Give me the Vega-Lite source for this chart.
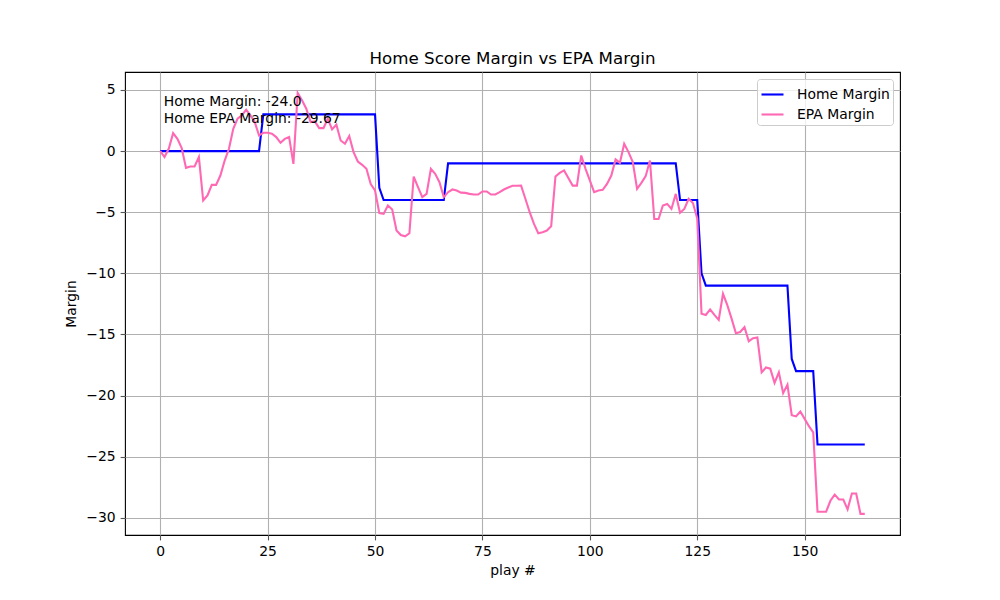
{
  "$schema": "https://vega.github.io/schema/vega-lite/v6.json",
  "autosize": {"type": "none"},
  "width": 775,
  "height": 463,
  "padding": {"left": 125, "top": 72, "right": 100, "bottom": 65},
  "background": "white",
  "title": {"text": "Home Score Margin vs EPA Margin", "fontSize": 16.7, "fontWeight": "normal", "font": "DejaVu Sans", "color": "black", "offset": 4, "anchor": "middle"},
  "datasets": {
    "plays": [
      {"play":0,"home":0,"epa":0},{"play":1,"home":0,"epa":-0.49},{"play":2,"home":0,"epa":0.21},{"play":3,"home":0,"epa":1.47},{"play":4,"home":0,"epa":1.0},
      {"play":5,"home":0,"epa":0.25},{"play":6,"home":0,"epa":-1.37},{"play":7,"home":0,"epa":-1.26},{"play":8,"home":0,"epa":-1.26},{"play":9,"home":0,"epa":-0.49},
      {"play":10,"home":0,"epa":-4.04},{"play":11,"home":0,"epa":-3.63},{"play":12,"home":0,"epa":-2.76},{"play":13,"home":0,"epa":-2.76},{"play":14,"home":0,"epa":-2.0},
      {"play":15,"home":0,"epa":-0.77},{"play":16,"home":0,"epa":0.19},{"play":17,"home":0,"epa":1.83},{"play":18,"home":0,"epa":2.65},{"play":19,"home":0,"epa":2.92},
      {"play":20,"home":0,"epa":3.39},{"play":21,"home":0,"epa":2.92},{"play":22,"home":0,"epa":2.38},{"play":23,"home":0,"epa":1.28},{"play":24,"home":3,"epa":1.5},
      {"play":25,"home":3,"epa":1.5},{"play":26,"home":3,"epa":1.42},{"play":27,"home":3,"epa":1.15},{"play":28,"home":3,"epa":0.68},{"play":29,"home":3,"epa":1.0},
      {"play":30,"home":3,"epa":1.15},{"play":31,"home":3,"epa":-1.04},{"play":32,"home":3,"epa":4.75},{"play":33,"home":3,"epa":4.15},{"play":34,"home":3,"epa":3.47},
      {"play":35,"home":3,"epa":2.38},{"play":36,"home":3,"epa":2.43},{"play":37,"home":3,"epa":1.88},{"play":38,"home":3,"epa":1.88},{"play":39,"home":3,"epa":2.65},
      {"play":40,"home":3,"epa":1.78},{"play":41,"home":3,"epa":2.16},{"play":42,"home":3,"epa":0.87},{"play":43,"home":3,"epa":0.6},{"play":44,"home":3,"epa":1.23},
      {"play":45,"home":3,"epa":-0.08},{"play":46,"home":3,"epa":-0.85},{"play":47,"home":3,"epa":-1.12},{"play":48,"home":3,"epa":-1.45},{"play":49,"home":3,"epa":-2.7},
      {"play":50,"home":3,"epa":-3.22},{"play":51,"home":-3,"epa":-5.08},{"play":52,"home":-4,"epa":-5.14},{"play":53,"home":-4,"epa":-4.45},{"play":54,"home":-4,"epa":-4.78},
      {"play":55,"home":-4,"epa":-6.5},{"play":56,"home":-4,"epa":-6.86},{"play":57,"home":-4,"epa":-6.97},{"play":58,"home":-4,"epa":-6.72},{"play":59,"home":-4,"epa":-2.08},
      {"play":60,"home":-4,"epa":-2.95},{"play":61,"home":-4,"epa":-3.77},{"play":62,"home":-4,"epa":-3.5},{"play":63,"home":-4,"epa":-1.45},{"play":64,"home":-4,"epa":-1.86},
      {"play":65,"home":-4,"epa":-2.54},{"play":66,"home":-4,"epa":-3.77},{"play":67,"home":-1,"epa":-3.36},{"play":68,"home":-1,"epa":-3.14},{"play":69,"home":-1,"epa":-3.22},
      {"play":70,"home":-1,"epa":-3.4},{"play":71,"home":-1,"epa":-3.42},{"play":72,"home":-1,"epa":-3.5},{"play":73,"home":-1,"epa":-3.55},{"play":74,"home":-1,"epa":-3.55},
      {"play":75,"home":-1,"epa":-3.3},{"play":76,"home":-1,"epa":-3.3},{"play":77,"home":-1,"epa":-3.55},{"play":78,"home":-1,"epa":-3.55},{"play":79,"home":-1,"epa":-3.36},
      {"play":80,"home":-1,"epa":-3.14},{"play":81,"home":-1,"epa":-2.98},{"play":82,"home":-1,"epa":-2.84},{"play":83,"home":-1,"epa":-2.84},{"play":84,"home":-1,"epa":-2.82},
      {"play":85,"home":-1,"epa":-3.9},{"play":86,"home":-1,"epa":-5.0},{"play":87,"home":-1,"epa":-5.96},{"play":88,"home":-1,"epa":-6.72},{"play":89,"home":-1,"epa":-6.64},
      {"play":90,"home":-1,"epa":-6.5},{"play":91,"home":-1,"epa":-6.15},{"play":92,"home":-1,"epa":-2.08},{"play":93,"home":-1,"epa":-1.78},{"play":94,"home":-1,"epa":-1.58},
      {"play":95,"home":-1,"epa":-2.2},{"play":96,"home":-1,"epa":-2.82},{"play":97,"home":-1,"epa":-2.82},{"play":98,"home":-1,"epa":-0.36},{"play":99,"home":-1,"epa":-1.45},
      {"play":100,"home":-1,"epa":-2.4},{"play":101,"home":-1,"epa":-3.36},{"play":102,"home":-1,"epa":-3.22},{"play":103,"home":-1,"epa":-3.17},{"play":104,"home":-1,"epa":-2.68},
      {"play":105,"home":-1,"epa":-2.0},{"play":106,"home":-1,"epa":-0.68},{"play":107,"home":-1,"epa":-0.96},{"play":108,"home":-1,"epa":0.6},{"play":109,"home":-1,"epa":-0.08},
      {"play":110,"home":-1,"epa":-0.9},{"play":111,"home":-1,"epa":-3.09},{"play":112,"home":-1,"epa":-2.6},{"play":113,"home":-1,"epa":-2.05},{"play":114,"home":-1,"epa":-0.77},
      {"play":115,"home":-1,"epa":-5.55},{"play":116,"home":-1,"epa":-5.55},{"play":117,"home":-1,"epa":-4.45},{"play":118,"home":-1,"epa":-4.32},{"play":119,"home":-1,"epa":-4.73},
      {"play":120,"home":-1,"epa":-3.5},{"play":121,"home":-4,"epa":-5.05},{"play":122,"home":-4,"epa":-4.73},{"play":123,"home":-4,"epa":-3.9},{"play":124,"home":-4,"epa":-4.24},
      {"play":125,"home":-4,"epa":-5.5},{"play":126,"home":-10,"epa":-13.3},{"play":127,"home":-11,"epa":-13.4},{"play":128,"home":-11,"epa":-12.95},{"play":129,"home":-11,"epa":-13.4},
      {"play":130,"home":-11,"epa":-13.8},{"play":131,"home":-11,"epa":-11.67},{"play":132,"home":-11,"epa":-12.6},{"play":133,"home":-11,"epa":-13.7},{"play":134,"home":-11,"epa":-14.9},
      {"play":135,"home":-11,"epa":-14.8},{"play":136,"home":-11,"epa":-14.4},{"play":137,"home":-11,"epa":-15.55},{"play":138,"home":-11,"epa":-15.3},{"play":139,"home":-11,"epa":-15.25},
      {"play":140,"home":-11,"epa":-18.1},{"play":141,"home":-11,"epa":-17.7},{"play":142,"home":-11,"epa":-17.8},{"play":143,"home":-11,"epa":-18.96},{"play":144,"home":-11,"epa":-18.1},
      {"play":145,"home":-11,"epa":-19.8},{"play":146,"home":-11,"epa":-19.1},{"play":147,"home":-17,"epa":-21.6},{"play":148,"home":-18,"epa":-21.7},{"play":149,"home":-18,"epa":-21.3},
      {"play":150,"home":-18,"epa":-21.9},{"play":151,"home":-18,"epa":-22.5},{"play":152,"home":-18,"epa":-23.0},{"play":153,"home":-24,"epa":-29.5},{"play":154,"home":-24,"epa":-29.5},
      {"play":155,"home":-24,"epa":-29.5},{"play":156,"home":-24,"epa":-28.6},{"play":157,"home":-24,"epa":-28.1},{"play":158,"home":-24,"epa":-28.5},{"play":159,"home":-24,"epa":-28.5},
      {"play":160,"home":-24,"epa":-29.3},{"play":161,"home":-24,"epa":-28.0},{"play":162,"home":-24,"epa":-28.0},{"play":163,"home":-24,"epa":-29.67},{"play":164,"home":-24,"epa":-29.67}
    ],
    "note": [
      {"play": 0.82, "margin": 4.58, "label": "Home Margin: -24.0\nHome EPA Margin: -29.67"}
    ]
  },
  "layer": [
    {
      "data": {"name": "plays"},
      "mark": {"type": "line", "strokeWidth": 2.1, "interpolate": "linear"},
      "encoding": {
        "x": {"field": "play", "type": "quantitative"},
        "y": {"field": "home", "type": "quantitative"},
        "color": {"datum": "Home Margin"}
      }
    },
    {
      "data": {"name": "plays"},
      "mark": {"type": "line", "strokeWidth": 2.1, "interpolate": "linear"},
      "encoding": {
        "x": {"field": "play", "type": "quantitative"},
        "y": {"field": "epa", "type": "quantitative"},
        "color": {"datum": "EPA Margin"}
      }
    },
    {
      "data": {"name": "note"},
      "mark": {"type": "text", "align": "left", "baseline": "top", "fontSize": 13.9, "font": "DejaVu Sans", "color": "black", "lineBreak": "\n", "lineHeight": 16.5},
      "encoding": {
        "x": {"field": "play", "type": "quantitative"},
        "y": {"field": "margin", "type": "quantitative"},
        "text": {"field": "label"}
      }
    }
  ],
  "resolve": {"scale": {"x": "shared", "y": "shared"}},
  "encoding": {
    "x": {"field": "play", "type": "quantitative", "title": "play #",
      "scale": {"domain": [-8.2, 172.2], "nice": false, "zero": false},
      "axis": {"values": [0, 25, 50, 75, 100, 125, 150], "format": "d"}},
    "y": {"type": "quantitative", "title": "Margin",
      "scale": {"domain": [-31.4, 6.47], "nice": false, "zero": false},
      "axis": {"values": [-30, -25, -20, -15, -10, -5, 0, 5], "format": "d"}},
    "color": {"type": "nominal", "title": null,
      "scale": {"domain": ["Home Margin", "EPA Margin"], "range": ["#0000ff", "#ff69b4"]},
      "legend": {"orient": "top-right", "offset": 7, "padding": 3, "symbolType": "stroke", "symbolSize": 484, "symbolStrokeWidth": 2.1,
        "labelFontSize": 13.9, "labelFont": "DejaVu Sans", "labelColor": "black", "labelOffset": 12, "rowPadding": 0,
        "fillColor": "rgba(255,255,255,0.8)", "strokeColor": "#cccccc", "cornerRadius": 3}}
  },
  "config": {
    "font": "DejaVu Sans",
    "view": {"stroke": "black", "strokeWidth": 1.1},
    "axis": {
      "grid": true, "gridColor": "#b0b0b0", "gridWidth": 1.1, "domain": false,
      "ticks": true, "tickColor": "#555555", "tickWidth": 1.1, "tickSize": 4.9,
      "labelFontSize": 13.9, "labelColor": "black", "labelPadding": 4.9, "labelFont": "DejaVu Sans",
      "titleFontSize": 13.9, "titleFontWeight": "normal", "titleColor": "black", "titleFont": "DejaVu Sans", "titlePadding": 5
    },
    "axisY": {"titlePadding": 7}
  }
}
